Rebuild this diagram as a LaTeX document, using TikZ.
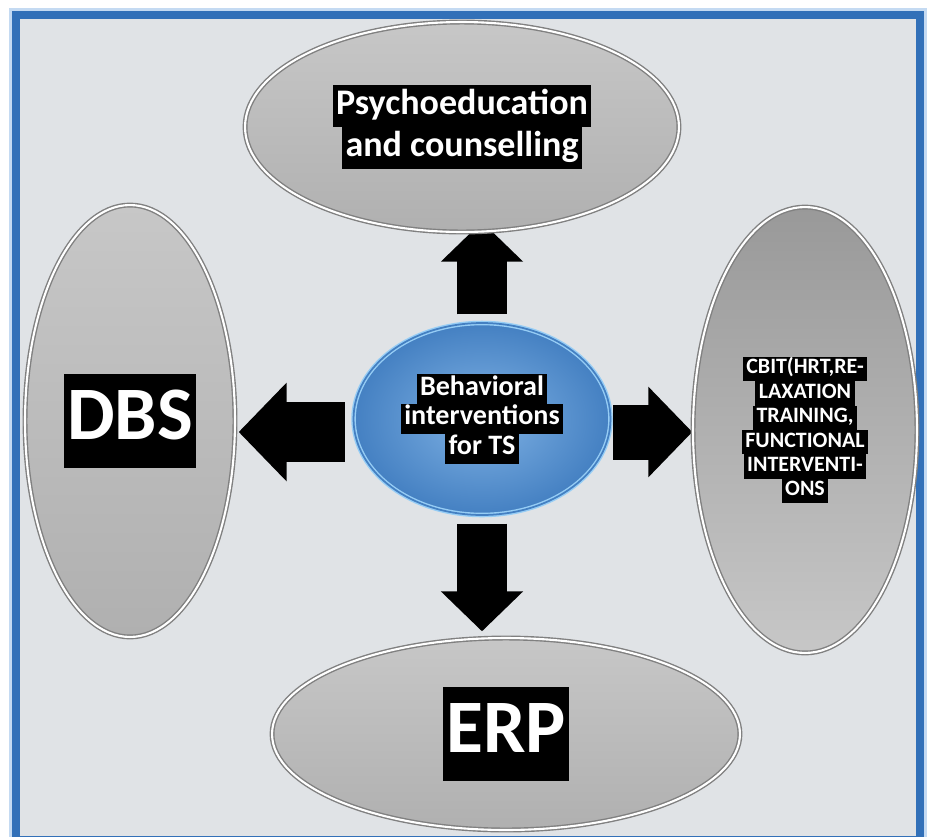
\documentclass[tikz,border=0pt]{standalone}
\usepackage{fontspec}
\setmainfont{Carlito}
\usetikzlibrary{arrows.meta,shapes.geometric}

\definecolor{frameblue}{RGB}{50,112,184}
\definecolor{glowblue}{RGB}{196,218,242}
\definecolor{marble}{RGB}{224,227,230}
\definecolor{hubdark}{RGB}{68,128,194}
\definecolor{hublight}{RGB}{128,178,228}
\definecolor{hubrim}{RGB}{150,205,245}

\pgfdeclarelayer{backdrop}
\pgfdeclarelayer{links}
\pgfsetlayers{backdrop,links,main}

\setlength{\fboxsep}{0pt}
\newcommand{\blackbar}[1]{\colorbox{black}{\kern2pt\strut#1\kern2pt}}

\begin{document}
\begin{tikzpicture}[
  x=0.02cm, y=-0.02cm,
  disc/.style={ellipse, draw=black!50, line width=0.8pt, double=white, double distance=1.2pt,
    top color=black!22, bottom color=black!31, inner sep=0pt, text=white, align=center},
  hub/.style={ellipse, draw=hubrim, line width=0.8pt, double=hubdark, double distance=1pt,
    inner color=hublight, outer color=hubdark, inner sep=0pt, text=white, align=center},
  blockarrow/.style={black, line width=#1, -{Triangle[width=0pt 1.6, length=0pt 0.8]}}
]
\useasboundingbox (0,0) rectangle (927,836);

% frame and backdrop
\begin{pgfonlayer}{backdrop}
  \fill[white] (0,0) rectangle (927,836);
  \draw[glowblue, line width=0.3cm] (16,15) rectangle (920,840);
  \fill[marble] (16,15) rectangle (920,840);
  \draw[frameblue, line width=0.16cm] (16,15) rectangle (920,840);
\end{pgfonlayer}

% ellipses
\node[hub, minimum width=5.14cm, minimum height=3.84cm,
  font=\fontsize{16}{17}\selectfont\bfseries] (beh) at (482,419)
  {\blackbar{Behavioral}\\\blackbar{interventions}\\\blackbar{for TS}};
\node[disc, minimum width=8.68cm, minimum height=4.2cm,
  font=\fontsize{20.5}{23.8}\selectfont\bfseries] (psy) at (462,127)
  {\blackbar{Psychoeducation}\\\blackbar{and counselling}};
\node[disc, minimum width=4.2cm, minimum height=8.64cm,
  font=\fontsize{43}{54}\selectfont\bfseries] (dbs) at (130,421)
  {\blackbar{DBS}};
\node[disc, minimum width=4.48cm, minimum height=8.92cm, top color=black!40, bottom color=black!22,
  font=\fontsize{12.5}{13.9}\selectfont\bfseries] (cbit) at (805,430)
  {\blackbar{CBIT(HRT,RE-}\\\blackbar{LAXATION}\\\blackbar{TRAINING,}\\
   \blackbar{FUNCTIONAL}\\\blackbar{INTERVENTI-}\\\blackbar{ONS}};
\node[disc, minimum width=9.36cm, minimum height=3.84cm,
  font=\fontsize{43}{54}\selectfont\bfseries] (erp) at (506,734)
  {\blackbar{ERP}};

% arrows
\begin{pgfonlayer}{links}
  \draw[blockarrow=1cm, shorten <=0.16cm, shorten >=-0.22cm] (beh.north) -- (beh.north |- psy.south);
  \draw[blockarrow=1cm, shorten <=0.16cm, shorten >=0.12cm] (beh.south) -- (beh.south |- erp.north);
  \draw[blockarrow=1.2cm, shorten <=0.16cm, shorten >=0.06cm]
    ([yshift=-0.26cm]beh.west) -- ([yshift=-0.26cm]beh.west -| dbs.east);
  \draw[blockarrow=1.1cm, shorten <=0.04cm]
    ([yshift=-0.26cm]beh.east) -- ([yshift=-0.26cm]beh.east -| cbit.west);
\end{pgfonlayer}
\end{tikzpicture}
\end{document}
